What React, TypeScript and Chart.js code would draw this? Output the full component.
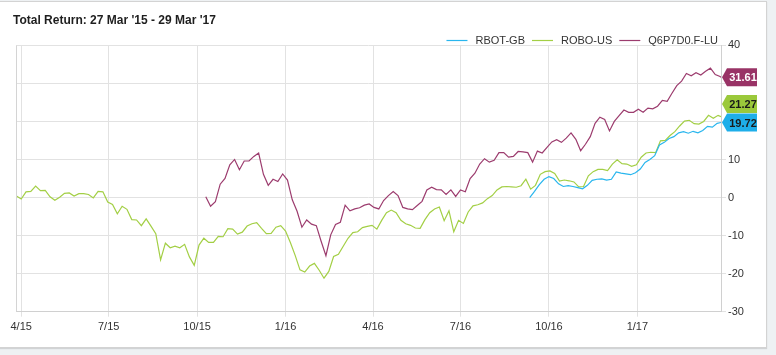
import React, { useEffect, useRef } from "react";
import { Chart, registerables } from "chart.js";

Chart.register(...registerables);

// Day 0 = 27 Mar 2015, last day = 29 Mar 2017
const TITLE = "Total Return: 27 Mar '15 - 29 Mar '17";
const END_DAY = 733;
const STEP_DAYS = 5;
const QUARTER_DAYS = [5, 96, 188, 280, 371, 462, 554, 646];
const QUARTER_LABELS = ["4/15", "7/15", "10/15", "1/16", "4/16", "7/16", "10/16", "1/17"];
const Y_MIN = -30;
const Y_MAX = 40;
const Y_STEP = 10;

const SERIES_NAMES = ["RBOT-GB", "ROBO-US", "Q6P7D0.F-LU"];
const SERIES_COLORS = ["#1eaee9", "#9bc93b", "#993366"];
const LINE_COLORS = ["#29b6ee", "#a3cf45", "#9c3c6e"];
const LABEL_TEXT_COLORS = ["#1a1a1a", "#1a1a1a", "#ffffff"];
const SERIES_START_DAY = [534, 0, 197];
const LAST_VALUES = [19.72, 21.27, 31.61];

const rbotGB = [
  0, 1.6, 3.4, 4.8, 5.5, 5.0, 3.6, 2.9, 3.1, 2.9,
  2.6, 2.3, 3.2, 4.5, 4.8, 4.9, 4.6, 4.8, 6.7, 6.4,
  6.2, 6.0, 6.5, 7.5, 9.2, 10.0, 11.0, 13.8, 14.5, 15.5,
  16.0, 17.0, 17.3, 16.9, 17.4, 17.0, 17.6, 18.7, 18.5, 19.5,
  19.72,
];

const roboUS = [
  0.4, -0.4, 1.5, 1.6, 3.0, 1.8, 1.9, 0.2, -0.7, 0.1,
  1.1, 1.2, 0.4, 1.0, 1.0, 0.8, -0.1, 1.6, 1.5, -1.2,
  -1.8, -4.3, -2.3, -3.1, -5.8, -5.9, -7.4, -5.6, -7.5, -9.5,
  -16.4, -12.0, -13.2, -12.8, -13.2, -12.3, -15.6, -17.8, -12.5, -10.7,
  -11.8, -11.8, -10.2, -10.3, -8.2, -8.3, -9.6, -9.1, -7.5, -6.9,
  -6.6, -8.1, -9.5, -9.4, -7.8, -7.4, -8.8, -11.8, -15.2, -19.0,
  -19.6, -18.0, -17.3, -19.1, -21.2, -19.4, -15.5, -14.9, -12.8, -10.7,
  -9.2, -9.0, -7.9, -7.6, -7.3, -8.3, -6.0, -4.0, -3.3, -4.0,
  -6.0, -6.9, -7.3, -8.0, -8.1, -5.8, -4.0, -3.0, -2.5, -6.1,
  -3.5, -9.0, -6.0, -6.8, -3.8, -2.2, -1.9, -1.4, -0.3, 0.5,
  2.0, 2.8, 2.9, 2.8, 2.7, 3.1, 4.8, 2.2, 3.2, 6.1,
  6.8, 7.0, 6.3, 4.3, 4.6, 4.4, 4.1, 2.8, 2.9, 5.7,
  6.8, 7.4, 7.4, 7.1, 8.8, 9.9, 8.9, 8.8, 8.2, 8.6,
  10.6, 11.7, 11.9, 11.8, 14.9, 15.0, 16.3, 17.3, 18.8, 20.1,
  20.3, 19.4, 19.3, 20.0, 21.6, 20.8, 21.6, 21.27,
];

const q6p7d0 = [
  0.2, -2.3, -1.1, 3.5, 5.0, 8.6, 10.0, 7.3, 9.6, 9.6,
  10.8, 11.7, 6.1, 3.2, 4.8, 4.2, 6.2, 4.6, -0.6, -3.6,
  -7.8, -5.9, -7.0, -7.4, -11.5, -15.3, -9.8, -7.1, -6.5, -2.0,
  -3.5, -3.0, -2.7, -2.0, -1.7, -2.6, -3.0, -0.8, 0.5, 1.6,
  0.5, -2.6, -3.0, -3.2, -2.1, -1.0, 2.0, 2.7, 2.1, 2.0,
  0.8, 2.0, 0.3, 2.0, 1.5, 5.0, 6.4, 8.8, 10.2, 9.3,
  9.8, 11.8, 11.8, 10.6, 10.8, 12.1, 12.0, 11.8, 9.3, 12.2,
  11.7, 13.2, 14.6, 15.2, 14.5, 15.6, 17.0, 15.3, 12.3, 14.0,
  16.0, 19.5, 21.1, 20.5, 17.5, 20.0, 21.5, 23.0, 22.4, 22.4,
  23.2, 22.4, 23.5, 23.3, 24.0, 25.5, 25.3, 27.4, 29.4, 30.6,
  32.6, 32.0, 32.8, 32.2, 33.2, 34.0, 32.3, 31.8, 31.61,
];

const SERIES_VALUES = [rbotGB, roboUS, q6p7d0];

const FONT = '"Liberation Sans", Arial, Helvetica, sans-serif';

const overlayPlugin = {
  id: "overlay",
  afterDraw(chart: any) {
    const ctx = chart.ctx as CanvasRenderingContext2D;
    const area = chart.chartArea;
    const yScale = chart.scales.y;
    ctx.save();

    // left border of plot
    ctx.strokeStyle = "#d4d4d4";
    ctx.lineWidth = 1;
    ctx.beginPath();
    ctx.moveTo(Math.round(area.left) + 0.5, area.top);
    ctx.lineTo(Math.round(area.left) + 0.5, area.bottom);
    ctx.stroke();

    // title
    ctx.fillStyle = "#1e1e1e";
    ctx.font = `bold 12px ${FONT}`;
    ctx.textBaseline = "middle";
    ctx.textAlign = "left";
    ctx.fillText(TITLE, 13, 21);

    // legend (right aligned)
    ctx.font = `11px ${FONT}`;
    const lineLen = 21;
    const gapLineText = 8;
    const gapItems = 7;
    const widths = SERIES_NAMES.map((n) => ctx.measureText(n).width);
    let total = 0;
    widths.forEach((w, i) => {
      total += lineLen + gapLineText + w + (i < widths.length - 1 ? gapItems : 0);
    });
    let lx = 718 - total;
    const ly = 40;
    SERIES_NAMES.forEach((name, i) => {
      ctx.strokeStyle = LINE_COLORS[i];
      ctx.lineWidth = 1.2;
      ctx.beginPath();
      ctx.moveTo(lx, ly + 0.5);
      ctx.lineTo(lx + lineLen, ly + 0.5);
      ctx.stroke();
      ctx.fillStyle = "#333333";
      ctx.fillText(name, lx + lineLen + gapLineText, ly + 1);
      lx += lineLen + gapLineText + widths[i] + gapItems;
    });

    // end value labels
    const boxH = 18;
    const labels = LAST_VALUES.map((v, i) => ({ i, v, y: yScale.getPixelForValue(v) }));
    labels.sort((a, b) => b.y - a.y);
    for (let k = 1; k < labels.length; k++) {
      const lower = labels[k - 1];
      if (labels[k].y > lower.y - boxH - 0.5) labels[k].y = lower.y - boxH - 0.5;
    }
    const tipX = area.right + 1;
    const bodyX = tipX + 5;
    const endX = tipX + 35;
    labels.forEach((lab) => {
      const cy = lab.y;
      ctx.fillStyle = SERIES_COLORS[lab.i];
      ctx.beginPath();
      ctx.moveTo(tipX, cy);
      ctx.lineTo(bodyX, cy - boxH / 2);
      ctx.lineTo(endX, cy - boxH / 2);
      ctx.lineTo(endX, cy + boxH / 2);
      ctx.lineTo(bodyX, cy + boxH / 2);
      ctx.closePath();
      ctx.fill();
      ctx.fillStyle = LABEL_TEXT_COLORS[lab.i];
      ctx.font = `bold 11px ${FONT}`;
      ctx.textAlign = "center";
      ctx.textBaseline = "middle";
      ctx.fillText(lab.v.toFixed(2), (bodyX + endX) / 2 + 1, cy + 1);
    });

    ctx.restore();
  },
};

export default function App() {
  const canvasRef = useRef<HTMLCanvasElement | null>(null);

  useEffect(() => {
    const canvas = canvasRef.current;
    if (!canvas) return;

    const datasets = SERIES_NAMES.map((name, s) => ({
      label: name,
      data: SERIES_VALUES[s].map((v, i) => ({
        x: Math.min(SERIES_START_DAY[s] + i * STEP_DAYS, END_DAY),
        y: v,
      })),
      borderColor: LINE_COLORS[s],
      backgroundColor: LINE_COLORS[s],
      borderWidth: 1.2,
      pointRadius: 0,
      pointHoverRadius: 0,
      tension: 0,
      fill: false,
    }));
    // draw green above maroon? keep order: maroon drawn last in reference legend order
    const chart = new Chart(canvas, {
      type: "line",
      data: { datasets },
      plugins: [overlayPlugin],
      options: {
        animation: false,
        responsive: false,
        devicePixelRatio: 1,
        layout: { padding: { left: 16.4, top: 45.3, right: 0, bottom: 0 } },
        plugins: {
          legend: { display: false },
          title: { display: false },
          tooltip: { enabled: false },
        },
        scales: {
          x: {
            type: "linear",
            min: 0,
            max: END_DAY,
            position: "bottom",
            afterBuildTicks: (scale: any) => {
              scale.ticks = QUARTER_DAYS.map((v) => ({ value: v }));
            },
            afterFit: (scale: any) => {
              scale.height = 355 - 311.7;
            },
            grid: {
              color: "#e2e2e2",
              lineWidth: 1,
              tickLength: 5,
              drawTicks: true,
            },
            border: { color: "#d0d0d0" },
            ticks: {
              autoSkip: false,
              maxRotation: 0,
              padding: 4,
              color: "#333333",
              font: { family: FONT, size: 11 },
              callback: (_v: any, index: number) => QUARTER_LABELS[index],
            },
          },
          y: {
            type: "linear",
            position: "right",
            min: Y_MIN,
            max: Y_MAX,
            afterFit: (scale: any) => {
              scale.width = 776 - 721;
            },
            grid: {
              color: "#e2e2e2",
              lineWidth: 1,
              tickLength: 5,
            },
            border: { color: "#d0d0d0" },
            ticks: {
              stepSize: Y_STEP,
              padding: 2,
              color: "#333333",
              font: { family: FONT, size: 11 },
            },
          },
        },
      },
    });
    return () => chart.destroy();
  }, []);

  return (
    <div
      style={{
        position: "fixed",
        left: 0,
        top: 0,
        width: 776,
        height: 355,
        background: "#eef1f3",
        overflow: "hidden",
      }}
    >
      <div
        style={{
          position: "absolute",
          left: -1,
          top: 1,
          width: 768,
          height: 347,
          boxSizing: "border-box",
          border: "1px solid #d3d3d3",
          background: "#ffffff",
          boxShadow: "0 1px 1px rgba(0,0,0,0.12)",
        }}
      />
      <canvas
        ref={canvasRef}
        width={776}
        height={355}
        style={{ position: "absolute", left: 0, top: 0, width: 776, height: 355 }}
      />
    </div>
  );
}
